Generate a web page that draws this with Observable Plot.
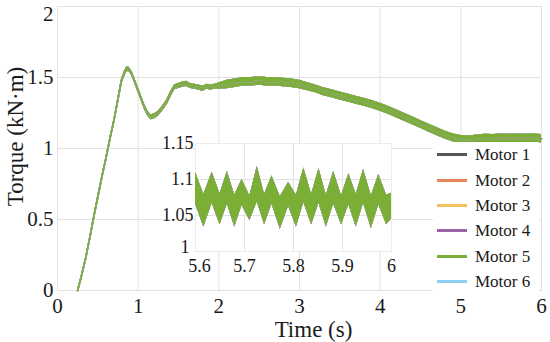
<!DOCTYPE html>
<html>
<head>
<meta charset="utf-8">
<script src="https://cdn.jsdelivr.net/npm/d3@7"></script>
<script src="https://cdn.jsdelivr.net/npm/@observablehq/plot@0.6"></script>
<style>
  html, body { margin: 0; padding: 0; background: white; }
  #wrap { position: relative; width: 550px; height: 342px; overflow: hidden; font-family: "Liberation Serif", "Times New Roman", serif; }
  #main { position: absolute; left: 0; top: 0; }
  #inset { position: absolute; left: 150px; top: 128px; }
  #legend { position: absolute; left: 433px; top: 142px; width: 106px; background: white; }
  .row { height: 25.4px; display: flex; align-items: center; }
  .sw { width: 30px; height: 3px; margin-left: 4px; margin-right: 8px; }
  .lab { font-family: "Liberation Serif", "Times New Roman", serif; font-size: 17px; color: #1a1a1a; line-height: 1; }
  svg text { font-family: "Liberation Serif", "Times New Roman", serif; }
</style>
</head>
<body>
<div id="wrap">
  <div id="main"></div>
  <div id="inset"></div>
  <div id="legend"></div>
</div>
<script>
// ---- data ----
const motors = ["Motor 1", "Motor 2", "Motor 3", "Motor 4", "Motor 5", "Motor 6"];
const motorColors = ["#555555", "#e8845c", "#f2c260", "#9d63a8", "#7aae35", "#8dcff0"];

const xLabel = "Time (s)";
const yLabel = "Torque (kN·m)";

const xTicksMain = [0, 1, 2, 3, 4, 5, 6];
const yTicksMain = [0, 0.5, 1, 1.5, 2];
const xTicksInset = [5.6, 5.7, 5.8, 5.9, 6];
const yTicksInset = [1, 1.05, 1.1, 1.15];

const timeMain = [0.25,0.30,0.35,0.40,0.45,0.50,0.55,0.60,0.65,0.70,0.75,0.79,0.83,0.86,0.89,0.92,0.96,1.00,1.04,1.08,1.12,1.16,1.20,1.25,1.30,1.35,1.40,1.45,1.50,1.55,1.60,1.65,1.70,1.75,1.80,1.85,1.90,1.95,2.00,2.10,2.20,2.30,2.40,2.50,2.60,2.70,2.80,2.90,3.00,3.10,3.20,3.30,3.40,3.50,3.60,3.70,3.80,3.90,4.00,4.10,4.20,4.30,4.40,4.50,4.60,4.70,4.80,4.90,5.00,5.10,5.20,5.30,5.40,5.50,5.60,5.70,5.80,5.90,6.00];
const torqueMain = [0,0.11,0.23,0.37,0.52,0.66,0.80,0.93,1.07,1.20,1.35,1.47,1.53,1.56,1.555,1.53,1.47,1.41,1.35,1.29,1.245,1.22,1.225,1.245,1.28,1.32,1.38,1.43,1.44,1.45,1.455,1.44,1.435,1.43,1.42,1.435,1.43,1.435,1.44,1.45,1.46,1.47,1.47,1.475,1.47,1.47,1.465,1.46,1.45,1.435,1.42,1.40,1.385,1.37,1.355,1.34,1.325,1.31,1.29,1.27,1.245,1.22,1.195,1.17,1.145,1.12,1.095,1.075,1.062,1.058,1.065,1.07,1.068,1.072,1.07,1.072,1.07,1.072,1.068];
const rippleMain = [0.005,0.005,0.005,0.005,0.005,0.005,0.005,0.005,0.005,0.005,0.008,0.012,0.016,0.016,0.016,0.016,0.016,0.018,0.018,0.018,0.018,0.018,0.018,0.018,0.018,0.018,0.018,0.018,0.018,0.018,0.018,0.018,0.018,0.018,0.018,0.018,0.018,0.018,0.022,0.03,0.03,0.03,0.03,0.03,0.03,0.03,0.03,0.03,0.03,0.028,0.028,0.028,0.028,0.028,0.028,0.028,0.028,0.028,0.028,0.028,0.028,0.028,0.028,0.028,0.028,0.028,0.028,0.028,0.03,0.03,0.03,0.03,0.03,0.03,0.03,0.03,0.03,0.03,0.03];

const insetTime = [5.600,5.617,5.634,5.650,5.665,5.680,5.695,5.711,5.726,5.741,5.756,5.773,5.790,5.806,5.821,5.837,5.852,5.867,5.882,5.898,5.913,5.928,5.943,5.959,5.974,5.990,6.000];
const insetHi = [1.110,1.079,1.110,1.080,1.111,1.078,1.100,1.077,1.118,1.079,1.105,1.076,1.096,1.078,1.116,1.079,1.115,1.078,1.111,1.077,1.108,1.079,1.114,1.077,1.107,1.078,1.081];
const insetLo = [1.066,1.034,1.067,1.037,1.066,1.034,1.064,1.043,1.069,1.037,1.066,1.031,1.063,1.034,1.068,1.037,1.067,1.034,1.066,1.037,1.065,1.034,1.067,1.032,1.065,1.037,1.045];

// ---- build tables ----
const drawOrder = ["Motor 1", "Motor 2", "Motor 3", "Motor 4", "Motor 6", "Motor 5"];
const mainRows = [];
for (const m of drawOrder) {
  timeMain.forEach((t, i) => mainRows.push({motor: m, t, mid: torqueMain[i], lo: torqueMain[i] - rippleMain[i], hi: torqueMain[i] + rippleMain[i]}));
}
const insetRows = [];
for (const m of drawOrder) {
  insetTime.forEach((t, i) => insetRows.push({motor: m, t, lo: insetLo[i], hi: insetHi[i]}));
}

const serif = "'Liberation Serif', 'Times New Roman', serif";
const gridColor = "#e2e2e2";
const fmt = d => String(d);
const yTop = yTicksMain[yTicksMain.length - 1];
const insetYBottom = yTicksInset[0];
const insetXFirst = xTicksInset[0];

const mainPlot = Plot.plot({
  width: 550, height: 342,
  marginLeft: 57, marginRight: 9, marginTop: 6, marginBottom: 52,
  x: {domain: [0, 6]},
  y: {domain: [0, 2]},
  color: {domain: motors, range: motorColors},
  style: {fontFamily: serif, fontSize: "21px", color: "#1a1a1a", background: "white", overflow: "visible"},
  marks: [
    Plot.gridX(xTicksMain, {stroke: gridColor, strokeOpacity: 1}),
    Plot.gridY(yTicksMain, {stroke: gridColor, strokeOpacity: 1}),
    Plot.frame({stroke: gridColor}),
    Plot.axisX(xTicksMain, {tickSize: 0, tickPadding: 8, tickFormat: fmt, label: null, fontSize: 21, fontFamily: serif, fontVariant: "normal"}),
    Plot.axisY(yTicksMain.filter(d => d !== yTop), {tickSize: 0, tickPadding: 4, tickFormat: fmt, label: null, fontSize: 21, fontFamily: serif, fontVariant: "normal"}),
    Plot.axisY([yTop], {tickSize: 0, tickPadding: 4, tickFormat: fmt, label: null, fontSize: 21, fontFamily: serif, fontVariant: "normal", dy: 8}),
    Plot.areaY(mainRows, {x: "t", y1: "lo", y2: "hi", z: "motor", fill: "motor"}),
    Plot.line(mainRows, {x: "t", y: "mid", z: "motor", stroke: "motor", strokeWidth: 1.6}),
    Plot.text([xLabel], {text: d => d, frameAnchor: "bottom", dy: 39, dx: 14, fontSize: 23, fontFamily: serif, lineAnchor: "middle", textAnchor: "middle", fill: "#1a1a1a"}),
    Plot.text([yLabel], {text: d => d, frameAnchor: "left", rotate: -90, dx: -42, dy: -12, fontSize: 23, fontFamily: serif, lineAnchor: "middle", textAnchor: "middle", fill: "#1a1a1a"})
  ]
});
document.getElementById("main").appendChild(mainPlot);

const insetPlot = Plot.plot({
  width: 255, height: 153,
  marginLeft: 45, marginRight: 14, marginTop: 15, marginBottom: 30,
  x: {domain: [5.6, 6]},
  y: {domain: [1, 1.15]},
  color: {domain: motors, range: motorColors},
  style: {fontFamily: serif, fontSize: "18px", color: "#1a1a1a", background: "transparent", overflow: "visible"},
  marks: [
    Plot.frame({fill: "white", stroke: "none"}),
    Plot.gridX(xTicksInset.slice(1, -1), {stroke: gridColor, strokeOpacity: 1}),
    Plot.gridY(yTicksInset.slice(1, -1), {stroke: gridColor, strokeOpacity: 1}),
    Plot.frame({stroke: "#ececec"}),
    Plot.axisX(xTicksInset.filter(d => d !== insetXFirst), {tickSize: 0, tickPadding: 8, tickFormat: fmt, label: null, fontSize: 18, fontFamily: serif, fontVariant: "normal"}),
    Plot.axisX([insetXFirst], {tickSize: 0, tickPadding: 8, tickFormat: fmt, label: null, fontSize: 18, fontFamily: serif, fontVariant: "normal", dx: 4}),
    Plot.axisY(yTicksInset.filter(d => d !== insetYBottom), {tickSize: 0, tickPadding: 2, tickFormat: fmt, label: null, fontSize: 18, fontFamily: serif, fontVariant: "normal"}),
    Plot.axisY([insetYBottom], {tickSize: 0, tickPadding: 6, tickFormat: fmt, label: null, fontSize: 18, fontFamily: serif, fontVariant: "normal", dy: -4}),
    Plot.areaY(insetRows, {x: "t", y1: "lo", y2: "hi", z: "motor", fill: "motor"})
  ]
});
document.getElementById("inset").appendChild(insetPlot);

const legend = document.getElementById("legend");
motors.forEach((m, i) => {
  const row = document.createElement("div");
  row.className = "row";
  const sw = document.createElement("div");
  sw.className = "sw";
  sw.style.background = motorColors[i];
  const lab = document.createElement("span");
  lab.className = "lab";
  lab.textContent = m;
  row.appendChild(sw);
  row.appendChild(lab);
  legend.appendChild(row);
});
</script>
</body>
</html>
